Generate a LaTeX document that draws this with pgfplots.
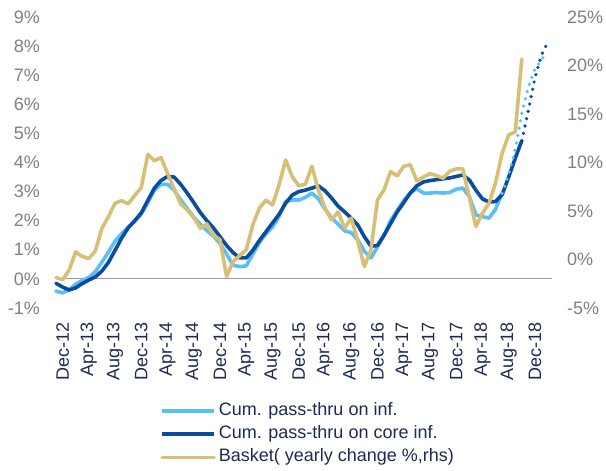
\documentclass[border=0pt]{standalone}
\usepackage{pgfplots}
\pgfplotsset{compat=1.18}
\usepackage{fontspec}
\setmainfont{Liberation Sans}
\definecolor{lblue}{RGB}{90,190,248}
\definecolor{dblue}{RGB}{10,76,160}
\definecolor{gold}{RGB}{216,191,118}
\definecolor{tickgray}{RGB}{128,128,128}
\definecolor{navy}{RGB}{30,42,82}
\newcommand{\bigf}{\fontsize{18}{21}\selectfont}
\begin{document}
\begin{tikzpicture}
\useasboundingbox (-56pt,-163pt) rectangle (550pt,308pt);
\pgfplotsset{
  base/.style={scale only axis, width=496pt, height=291pt,
    xmin=-1, xmax=74.6, axis line style={draw=none},
    major tick length=0pt, clip=false,
    tick label style={font=\bigf}},
  sol/.style={line width=3.6pt, line join=round, line cap=round},
  dot/.style={line width=3.6pt, line cap=round, dash pattern=on 0pt off 7.5pt},
}
\begin{axis}[base, ymin=-1, ymax=9,
  ytick={-1,0,1,2,3,4,5,6,7,8,9},
  yticklabels={-1\%,0\%,1\%,2\%,3\%,4\%,5\%,6\%,7\%,8\%,9\%},
  yticklabel style={anchor=east, inner sep=0pt, inner xsep=16pt, text=tickgray},
  xtick={0,4,...,72},
  xticklabels={Dec-12,Apr-13,Aug-13,Dec-13,Apr-14,Aug-14,Dec-14,Apr-15,Aug-15,Dec-15,Apr-16,Aug-16,Dec-16,Apr-17,Aug-17,Dec-17,Apr-18,Aug-18,Dec-18},
  xticklabel style={rotate=90, anchor=east, inner sep=0pt, inner xsep=14pt, text=navy},
  extra y ticks={0}, extra y tick labels={},
  extra y tick style={grid=major, major grid style={draw=gray!80, line width=1pt}},
]
\addplot[lblue, sol] coordinates {
(-1,-0.42) (0,-0.48) (1,-0.38) (2,-0.18) (3,-0.05) (4,0.05) (5,0.25) (6,0.58) (7,0.92) (8,1.30)
(9,1.55) (10,1.78) (11,1.98) (12,2.23) (13,2.62) (14,3.05) (15,3.25) (16,3.25) (17,3.05) (18,2.72)
(19,2.42) (20,2.12) (21,1.88) (22,1.66) (23,1.47) (24,1.22) (25,0.85) (26,0.47) (27,0.42) (28,0.45)
(29,0.85) (30,1.25) (31,1.55) (32,1.78) (33,2.15) (34,2.66) (35,2.71) (36,2.71) (37,2.80) (38,2.95)
(39,2.75) (40,2.40) (41,2.10) (42,1.88) (43,1.65) (44,1.59) (45,1.34) (46,0.95) (47,0.72) (48,1.10)
(49,1.50) (50,2.00) (51,2.35) (52,2.70) (53,2.95) (54,3.10) (55,2.95) (56,2.95) (57,2.97) (58,2.95)
(59,2.97) (60,3.08) (61,3.12) (62,2.83) (63,2.20) (64,2.14) (65,2.09) (66,2.40) (67,2.94)};
\addplot[dblue, sol] coordinates {
(-1,-0.15) (0,-0.28) (1,-0.38) (2,-0.31) (3,-0.16) (4,-0.04) (5,0.07) (6,0.27) (7,0.57) (8,0.98)
(9,1.40) (10,1.75) (11,2.00) (12,2.27) (13,2.70) (14,3.12) (15,3.38) (16,3.52) (17,3.50) (18,3.25)
(19,2.95) (20,2.62) (21,2.28) (22,2.00) (23,1.75) (24,1.45) (25,1.15) (26,0.90) (27,0.72) (28,0.72)
(29,0.98) (30,1.32) (31,1.62) (32,1.92) (33,2.22) (34,2.60) (35,2.88) (36,3.00) (37,3.05) (38,3.12)
(39,3.20) (40,3.03) (41,2.78) (42,2.50) (43,2.30) (44,2.09) (45,1.85) (46,1.45) (47,1.12) (48,1.15)
(49,1.50) (50,1.90) (51,2.30) (52,2.62) (53,2.95) (54,3.20) (55,3.33) (56,3.38) (57,3.41) (58,3.44)
(59,3.47) (60,3.52) (61,3.57) (62,3.40) (63,3.05) (64,2.75) (65,2.64) (66,2.66) (67,2.90) (68,3.50)
(69,4.15) (70,4.75)};
\addplot[lblue, dot] coordinates {(67,2.94) (68,3.60) (69,4.45) (70,5.70) (71,6.60) (72,7.20) (73,7.55) (74,7.78)};
\addplot[dblue, dot] coordinates {(70,4.75) (71,5.80) (72,6.90) (73,7.70) (74,8.15)};
\end{axis}
\begin{axis}[base, ymin=-5, ymax=25,
  xtick=\empty,
  ytick={-5,0,5,10,15,20,25},
  yticklabels={-5\%,0\%,5\%,10\%,15\%,20\%,25\%},
  yticklabel pos=right,
  yticklabel style={anchor=west, inner sep=0pt, inner xsep=15pt, text=tickgray},
  legend style={at={(axis description cs:0.2097,-0.3127)}, anchor=north west,
    draw=none, fill=none, font=\bigf, text=navy, inner sep=0pt,
    nodes={inner sep=0pt, inner xsep=3pt, inner ysep=3.15pt, text height=13pt, text depth=4pt},
    row sep=0pt},
  legend cell align=left,
  legend image code/.code={\draw[#1] (0pt,0pt) -- (52pt,0pt);},
]
\addlegendimage{lblue, sol, line cap=butt}
\addlegendentry{Cum. pass-thru on inf.}
\addlegendimage{dblue, sol, line cap=butt}
\addlegendentry{Cum. pass-thru on core inf.}
\addplot[gold, sol] coordinates {
(-1,-1.85) (0,-2.09) (1,-1.10) (2,0.79) (3,0.31) (4,0.10) (5,0.88) (6,3.22) (7,4.42) (8,5.80)
(9,6.07) (10,5.74) (11,6.61) (12,7.42) (13,10.84) (14,10.18) (15,10.51) (16,8.89) (17,7.30) (18,5.71)
(19,5.14) (20,4.30) (21,3.22) (22,3.67) (23,2.50) (24,2.05) (25,-1.76) (26,-0.20) (27,0.40) (28,1.00)
(29,3.58) (30,5.29) (31,6.13) (32,5.62) (33,7.69) (34,10.27) (35,8.56) (36,7.60) (37,7.75) (38,9.61)
(39,7.15) (40,5.26) (41,4.09) (42,4.90) (43,3.22) (44,4.27) (45,1.90) (46,-0.74) (47,1.00) (48,6.13)
(49,7.18) (50,9.07) (51,8.62) (52,9.61) (53,9.76) (54,8.11) (55,8.50) (56,8.86) (57,8.65) (58,8.38)
(59,9.10) (60,9.34) (61,9.34) (62,6.40) (63,3.40) (64,4.78) (65,5.80) (66,7.90) (67,10.96) (68,12.85)
(69,13.15) (70,20.65)};
\addlegendentry{Basket( yearly change \%,rhs)}
\end{axis}
\end{tikzpicture}
\end{document}
